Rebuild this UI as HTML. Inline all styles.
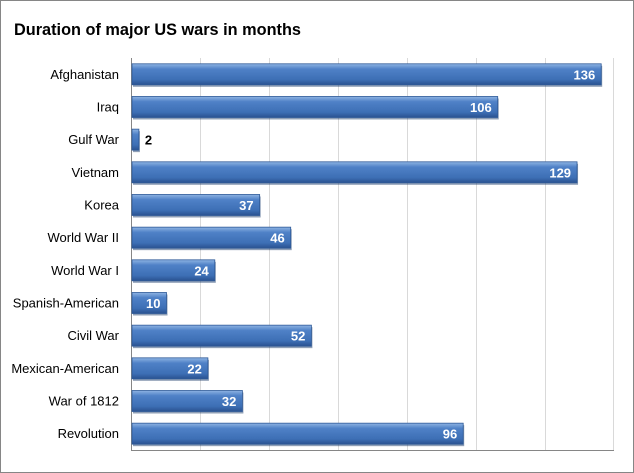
<!DOCTYPE html>
<html><head><style>
body{margin:0;background:#fff;}
.f{position:absolute;left:0;top:0;width:632px;height:471px;border:1px solid #868686;font-family:"Liberation Sans",sans-serif;}
</style></head><body>
<div class="f">
<svg width="634" height="473" style="position:absolute;left:-1px;top:-1px">
<defs>
<linearGradient id="g" x1="0" y1="0" x2="0" y2="1">
<stop offset="0" stop-color="#8fb4e3"/><stop offset="0.25" stop-color="#4f81c7"/><stop offset="0.75" stop-color="#3d6fb5"/><stop offset="1" stop-color="#2a5290"/>
</linearGradient>
</defs>
<text x="14" y="35" font-family="Liberation Sans" font-weight="bold" font-size="17" fill="#000" textLength="287" lengthAdjust="spacingAndGlyphs">Duration of major US wars in months</text>
<g stroke="#d9d9d9" stroke-width="1">
<line x1="200.5" y1="58" x2="200.5" y2="450"/><line x1="269.5" y1="58" x2="269.5" y2="450"/><line x1="338.5" y1="58" x2="338.5" y2="450"/><line x1="407.5" y1="58" x2="407.5" y2="450"/><line x1="476.5" y1="58" x2="476.5" y2="450"/><line x1="545.5" y1="58" x2="545.5" y2="450"/><line x1="613.5" y1="58" x2="613.5" y2="450"/>
</g>
<line x1="131.5" y1="58" x2="131.5" y2="451" stroke="#868686"/>
<line x1="131" y1="450.5" x2="614" y2="450.5" stroke="#868686"/>
</svg>
</div>
<script>
var d=[["Afghanistan",136],["Iraq",106],["Gulf War",2],["Vietnam",129],["Korea",37],["World War II",46],["World War I",24],["Spanish-American",10],["Civil War",52],["Mexican-American",22],["War of 1812",32],["Revolution",96]];
var s=document.querySelector("svg"),h="";
d.forEach(function(r,i){var c=74.3+i*32.67,w=r[1]*3.45,y=c-10.5;
h+='<text x="119" y="'+(c+4.5)+'" font-family="Liberation Sans" font-size="13" text-anchor="end">'+r[0]+'</text>';
h+='<rect x="133" y="'+(y+2)+'" width="'+w+'" height="21" fill="#1f3f6e" opacity="0.5"/>';
h+='<rect x="132" y="'+y+'" width="'+w+'" height="21" fill="url(#g)" stroke="#2f5a98" stroke-width="0.8"/>';
if(r[1]<5)h+='<text x="'+(132+w+6)+'" y="'+(c+5)+'" font-family="Liberation Sans" font-weight="bold" font-size="13">'+r[1]+'</text>';
else h+='<text x="'+(132+w-6)+'" y="'+(c+5)+'" font-family="Liberation Sans" font-weight="bold" font-size="13" fill="#fff" text-anchor="end">'+r[1]+'</text>';});
s.insertAdjacentHTML("beforeend",h);
</script>
</body></html>
